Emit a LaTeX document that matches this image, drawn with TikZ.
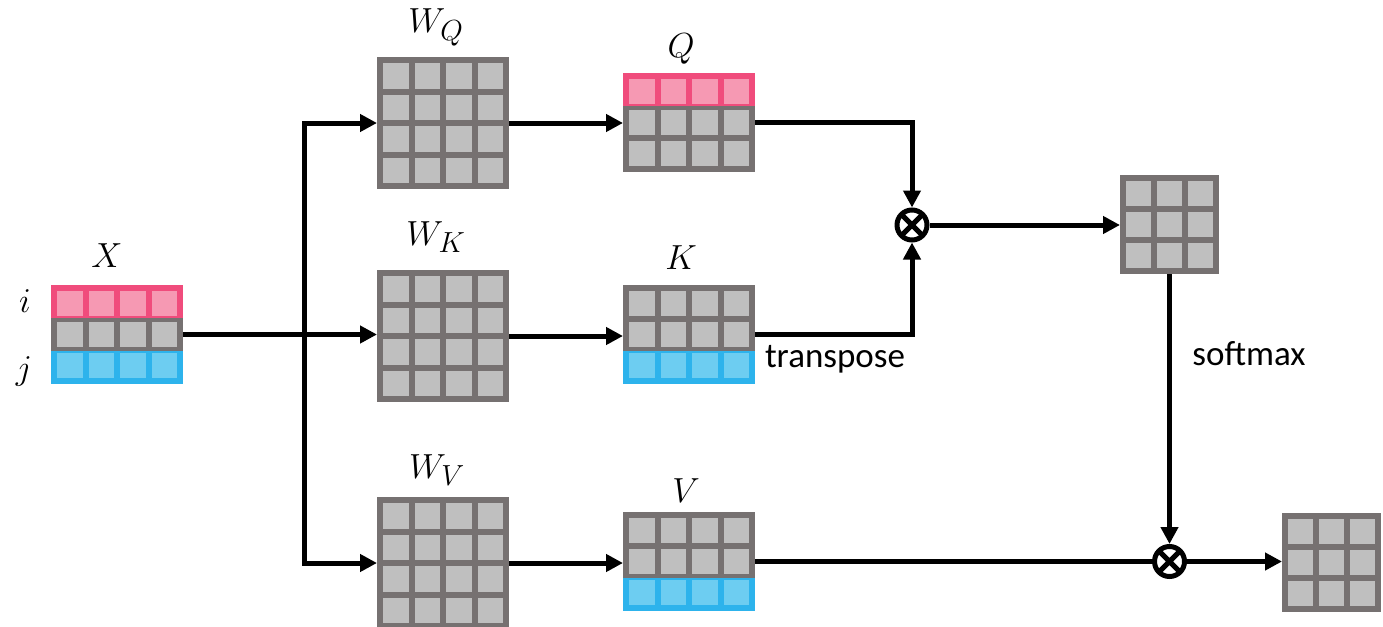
\documentclass[tikz,border=0pt]{standalone}
\usepackage{fontspec}
\newfontfamily\carlito{Carlito}
\usetikzlibrary{arrows.meta}
\definecolor{grb}{HTML}{767171}
\definecolor{grf}{HTML}{BFBFBF}
\definecolor{pkb}{HTML}{F04C7C}
\definecolor{pkf}{HTML}{F699B3}
\definecolor{blb}{HTML}{2DB3EC}
\definecolor{blf}{HTML}{6DCDF1}
\tikzset{
  mbox/.style={rectangle, inner sep=0pt, outer sep=0pt},
  ln/.style={line width=5pt, black},
  arr/.style={ln, -{Triangle[length=17pt,width=17pt]}},
  otimes/.style={circle, draw, line width=5pt, minimum size=30pt, inner sep=0pt,
    path picture={\draw[line width=5pt] (path picture bounding box.north east) -- (path picture bounding box.south west)
      (path picture bounding box.north west) -- (path picture bounding box.south east);}},
  mlbl/.style={font=\Huge, scale=1.4, inner sep=0pt, anchor=base},
  tlbl/.style={font=\carlito\fontsize{35}{42}\selectfont, inner sep=0pt, anchor=base},
}
\newcommand\gridmat[6]{%
  \node[mbox, minimum width={#4*33}, minimum height={#5*33}, anchor=north west] (#1) at (#2,#3) {};
  \pgfmathsetmacro\cw{27-6/#4}
  \pgfmathsetmacro\chh{27-6/#5}
  \foreach \rt [count=\ri] in {#6}{
    \fill[fill=\rt b] (#2,{#3+(\ri-1)*33}) rectangle ({#2+#4*33},{#3+\ri*33});
    \foreach \ci in {1,...,#4}{
      \fill[fill=\rt f] ({#2+6+(\ci-1)*(\cw+6)},{#3+6+(\ri-1)*(\chh+6)}) rectangle ++(\cw,\chh);
    }
  }
}
\begin{document}
\begin{tikzpicture}[x=1pt,y=-1pt]
\useasboundingbox (0,0) rectangle (1383,626);
% matrices
\gridmat{X}{51}{285}{4}{3}{pk,gr,bl}
\gridmat{WQ}{377}{57}{4}{4}{gr,gr,gr,gr}
\gridmat{WK}{377}{270}{4}{4}{gr,gr,gr,gr}
\gridmat{WV}{377}{497}{4}{4}{gr,gr,gr,gr}
\gridmat{Q}{623}{73}{4}{3}{pk,gr,gr}
\gridmat{K}{623}{285}{4}{3}{gr,gr,bl}
\gridmat{V}{623}{512}{4}{3}{gr,gr,bl}
\gridmat{S}{1120}{175}{3}{3}{gr,gr,gr}
\gridmat{O}{1282}{513}{3}{3}{gr,gr,gr}
% labels
\node[mlbl] (lX) at (107,267) {$X$};
\node[mlbl] (li) at (25,312) {$i$};
\node[mlbl] (lj) at (24,379) {$j$};
\node[mlbl] (lWQ) at (436,33) {$W_Q$};
\node[mlbl] (lWK) at (436,245) {$W_K$};
\node[mlbl] (lWV) at (437,478) {$W_V$};
\node[mlbl] (lQ) at (681,57) {$Q$};
\node[mlbl] (lK) at (681,269) {$K$};
\node[mlbl] (lV) at (686,502) {$V$};
\node[tlbl] (tr) at (835,367) {transpose};
\node[tlbl] (sm) at (1249,365) {softmax};
% operators
\node[otimes] (ot1) at (912,225) {};
\node[otimes] (ot2) at (S.south |- V.east) {};
% connectors
\coordinate (bus) at (304,0);
\draw[arr] (X.east) -- (X.east -| WK.west);
\draw[arr] (bus |- WV.west) -- (bus |- WQ.west) -- (WQ.west);
\draw[arr] (bus |- WQ.west) -- (bus |- WV.west) -- (WV.west);
\draw[arr] (WQ.east) -- (WQ.east -| Q.west);
\draw[arr] (WK.east) -- (WK.east -| K.west);
\draw[arr] (WV.east) -- (WV.east -| V.west);
\draw[arr] (Q.east) -| (ot1.north);
\draw[arr] (K.east) -| (ot1.south);
\draw[arr] (ot1.east) -- (ot1.east -| S.west);
\draw[arr] (S.south) -- (ot2.north);
\draw[ln] (V.east) -- (ot2.west);
\draw[arr] (ot2.east) -- (ot2.east -| O.west);
\end{tikzpicture}
\end{document}
